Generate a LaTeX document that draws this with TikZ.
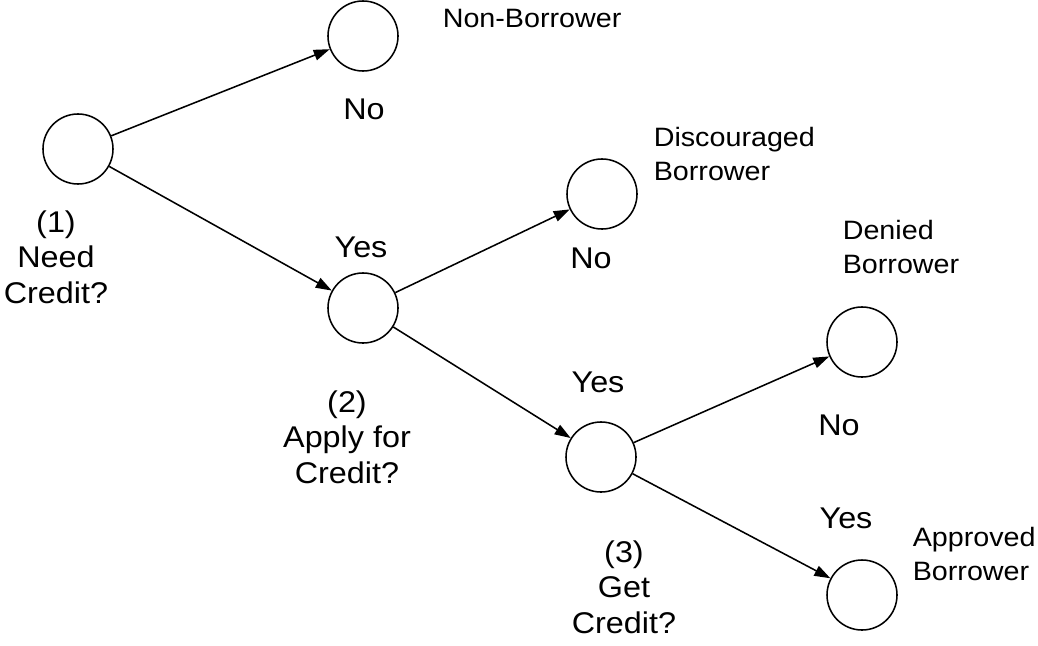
\documentclass[tikz,border=0pt]{standalone}
\usepackage{fontspec}
\setmainfont{Liberation Sans}[FakeStretch=1.08]
\usetikzlibrary{arrows.meta}

\begin{document}
\begin{tikzpicture}
	[x=0.025cm,y=-0.025cm,line width=1.1pt,
	circ/.style={shape=circle,draw,minimum size=1.75cm,inner sep=0pt},
	big/.style={inner sep=0pt,anchor=base,align=center,
		font=\fontsize{21.3pt}{24.9pt}\selectfont},
	small/.style={inner sep=0pt,anchor=base west,align=left,
		font=\fontsize{18.9pt}{23.5pt}\selectfont},
	arr/.style={-{Triangle[length=0.4cm,width=0.27cm]}}]
	\useasboundingbox (0,0) rectangle (1038,645);
	% decision nodes
	\node[circ] (a) at (78,149) {};
	\node[circ] (b) at (363,308) {};
	\node[circ] (c) at (601,457) {};
	% outcomes
	\node[circ] (a1) at (363,36) {};
	\node[circ] (b1) at (602,194) {};
	\node[circ] (c1) at (862,342) {};
	\node[circ] (c2) at (862,595) {};
	\draw[arr] (a) -- (a1);
	\draw[arr] (a) -- (b);
	\draw[arr] (b) -- (b1);
	\draw[arr] (b) -- (c);
	\draw[arr] (c) -- (c1);
	\draw[arr] (c) -- (c2);
	% labels (base = last line)
	\node[big] (qa) at (56,303) {(1)\\Need\\Credit?};
	\node[big] (qb) at (347,483) {(2)\\Apply for\\Credit?};
	\node[big] (qc) at (624,633) {(3)\\Get\\Credit?};
	\node[big] (na1) at (364,119) {No};
	\node[big] (ya) at (361,257) {Yes};
	\node[big] (nb1) at (591,268) {No};
	\node[big] (yb) at (598,392) {Yes};
	\node[big] (nc1) at (839,435) {No};
	\node[big] (yc) at (846,528) {Yes};
	\node[small] (ta1) at (442,27) {Non-Borrower};
	\node[small] (tb1) at (653,180) {Discouraged\\Borrower};
	\node[small] (tc1) at (842,273) {Denied\\Borrower};
	\node[small] (tc2) at (912,580) {Approved\\Borrower};
\end{tikzpicture}
\end{document}
